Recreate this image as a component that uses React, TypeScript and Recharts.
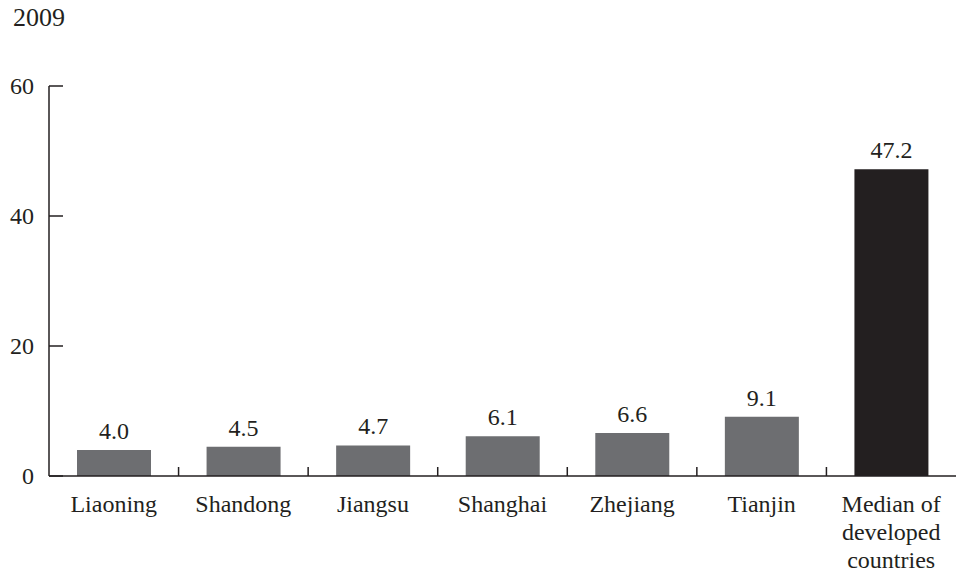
import React from "react";
import { BarChart, Bar, XAxis, YAxis, Cell, LabelList } from "recharts";

// Values per province, with the developed-country median last
const categories = [
  "Liaoning",
  "Shandong",
  "Jiangsu",
  "Shanghai",
  "Zhejiang",
  "Tianjin",
  "Median of\ndeveloped\ncountries",
];
const values = [4.0, 4.5, 4.7, 6.1, 6.6, 9.1, 47.2];
const yTicks = [0, 20, 40, 60];
const yearLabel = "2009";

const WIDTH = 956;
const HEIGHT = 573;
const X_AXIS_HEIGHT = 30;
const MARGIN = { top: 86, right: 0, bottom: 97 - X_AXIS_HEIGHT, left: 0 };
const Y_AXIS_WIDTH = 49;
const PLOT_WIDTH = WIDTH - MARGIN.left - MARGIN.right - Y_AXIS_WIDTH;
const BAND = PLOT_WIDTH / categories.length;

const INK = "#231f20";
const GREY = "#6d6e71";
const FONT = "Liberation Serif, Times New Roman, serif";
const FONT_SIZE = 24;

const data = categories.map((name, i) => ({ name, value: values[i] }));

// Y ticks: label to the left, short tick mark pointing into the plot
const YTick = (props: any) => {
  const { x, y, payload } = props;
  return (
    <g>
      <line x1={x} x2={x + 14} y1={y} y2={y} stroke={INK} strokeWidth={1.5} />
      <text
        x={x - 15}
        y={y}
        dy="0.35em"
        textAnchor="end"
        fill={INK}
        fontFamily={FONT}
        fontSize={FONT_SIZE}
      >
        {payload.value}
      </text>
    </g>
  );
};

// X ticks: multi-line category text, plus a separator tick between bands
const XTick = (props: any) => {
  const { x, y, payload, index } = props;
  const lines = String(payload.value).split("\n");
  const sepX = x - BAND / 2;
  return (
    <g>
      {index > 0 && (
        <line x1={sepX} x2={sepX} y1={y} y2={y - 9} stroke={INK} strokeWidth={1.5} />
      )}
      <text
        x={x}
        y={y + 36}
        textAnchor="middle"
        fill={INK}
        fontFamily={FONT}
        fontSize={FONT_SIZE}
      >
        {lines.map((l, i) => (
          <tspan key={i} x={x} dy={i === 0 ? 0 : 28}>
            {l}
          </tspan>
        ))}
      </text>
    </g>
  );
};

const ValueLabel = (props: any) => {
  const { x, y, width, value } = props;
  return (
    <text
      x={x + width / 2}
      y={y - 11}
      textAnchor="middle"
      fill={INK}
      fontFamily={FONT}
      fontSize={FONT_SIZE}
    >
      {Number(value).toFixed(1)}
    </text>
  );
};

export default function App() {
  return (
    <div
      style={{
        position: "absolute",
        left: 0,
        top: 0,
        width: WIDTH,
        height: HEIGHT,
        background: "#fff",
      }}
    >
      <div
        style={{
          position: "absolute",
          left: 13,
          top: 5,
          fontFamily: FONT,
          fontSize: 26,
          lineHeight: "26px",
          color: INK,
        }}
      >
        {yearLabel}
      </div>
      <BarChart width={WIDTH} height={HEIGHT} data={data} margin={MARGIN}>
        <XAxis
          dataKey="name"
          interval={0}
          height={X_AXIS_HEIGHT}
          axisLine={{ stroke: INK, strokeWidth: 1.5 }}
          tickLine={false}
          tickSize={0}
          tickMargin={0}
          tick={<XTick />}
        />
        <YAxis
          domain={[0, 60]}
          ticks={yTicks}
          width={Y_AXIS_WIDTH}
          axisLine={{ stroke: INK, strokeWidth: 1.5 }}
          tickLine={false}
          tickSize={0}
          tickMargin={0}
          tick={<YTick />}
        />
        <Bar dataKey="value" barSize={74} isAnimationActive={false}>
          {data.map((d, i) => (
            <Cell key={d.name} fill={i === data.length - 1 ? INK : GREY} />
          ))}
          <LabelList dataKey="value" content={<ValueLabel />} />
        </Bar>
      </BarChart>
    </div>
  );
}
